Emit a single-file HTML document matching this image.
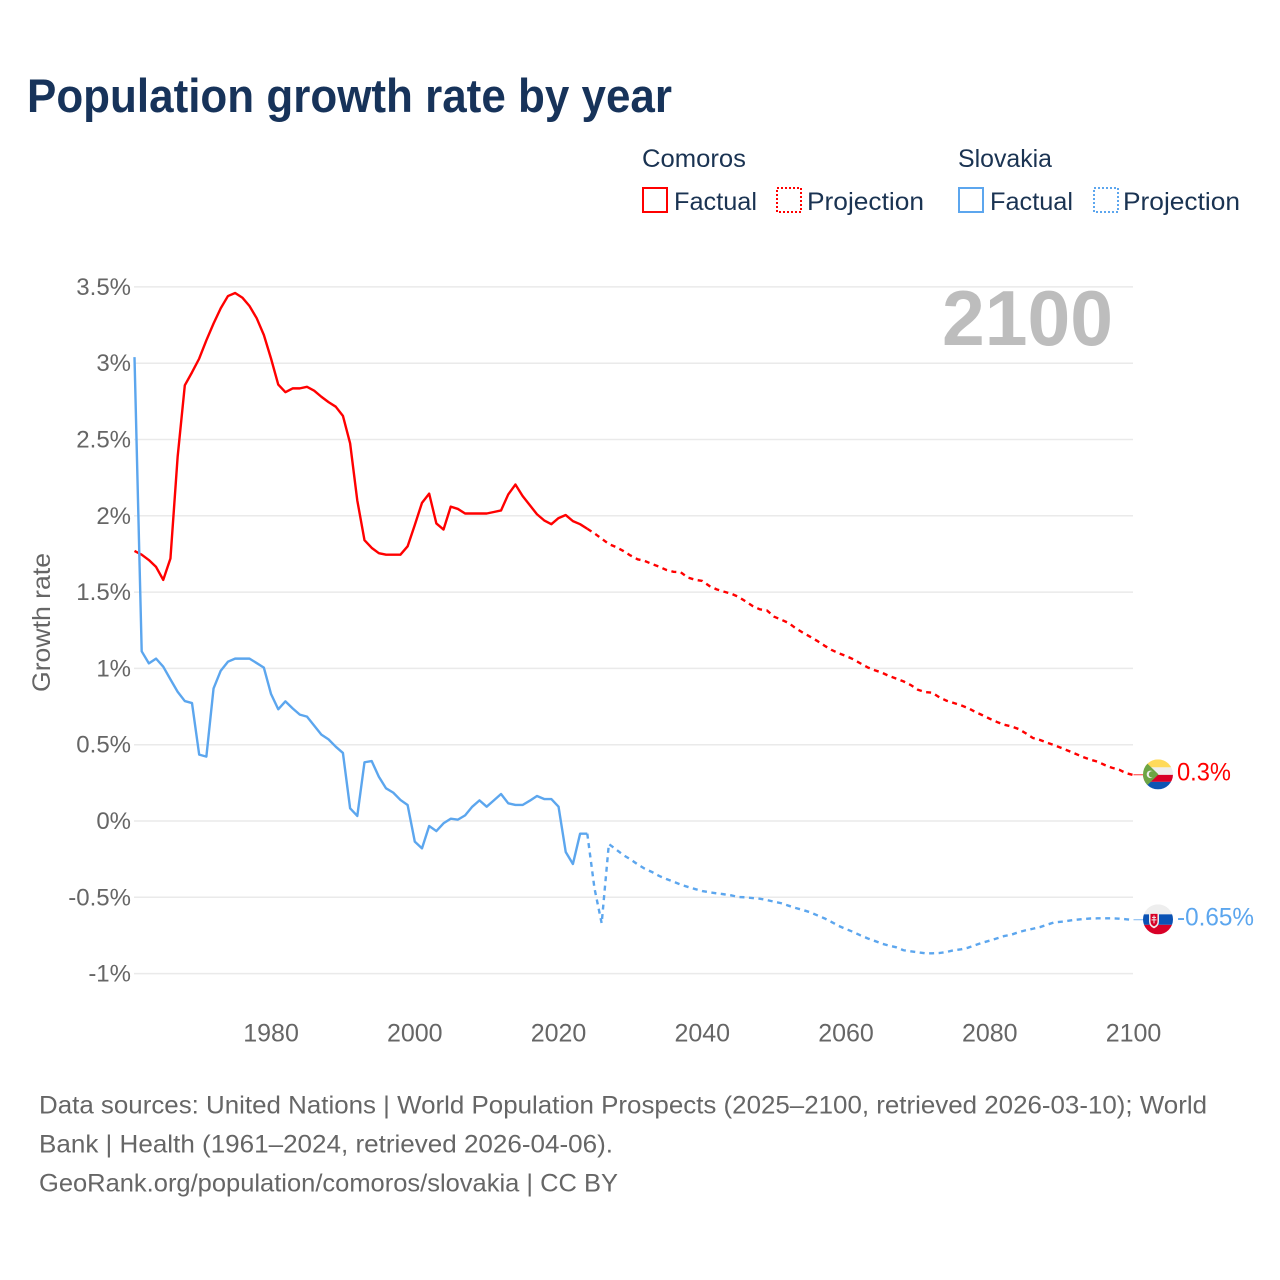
<!DOCTYPE html>
<html lang="en">
<head>
<meta charset="utf-8">
<title>Population growth rate by year</title>
<style>
  html, body { margin: 0; padding: 0; background: #fff; }
  #chart { display: block; width: 1280px; height: 1280px; font-family: "Liberation Sans", sans-serif; }
</style>
</head>
<body>
<svg id="chart" xmlns="http://www.w3.org/2000/svg" width="1280" height="1280" viewBox="0 0 1280 1280">
  <defs>
    <clipPath id="flag-clip-circle"><circle cx="0" cy="0" r="15"></circle></clipPath>
  </defs>
  <rect x="0" y="0" width="1280" height="1280" fill="#ffffff"></rect>

  <text x="27" y="112" font-size="47" font-weight="700" fill="#17335a" textLength="645" lengthAdjust="spacingAndGlyphs">Population growth rate by year</text>

  <g>
    <text x="642" y="167" font-size="25" fill="#1a3352" textLength="104" lengthAdjust="spacingAndGlyphs">Comoros</text>
    <text x="958" y="167" font-size="25" fill="#1a3352" textLength="94" lengthAdjust="spacingAndGlyphs">Slovakia</text>

    <rect x="643" y="188" width="24" height="24" fill="none" stroke="#ff0000" stroke-width="2"></rect>
    <text x="674" y="210" font-size="25" fill="#1a3352" textLength="83" lengthAdjust="spacingAndGlyphs">Factual</text>
    <rect x="777" y="188" width="24" height="24" fill="none" stroke="#ff0000" stroke-width="2" stroke-dasharray="2 2"></rect>
    <text x="807" y="210" font-size="25" fill="#1a3352" textLength="117" lengthAdjust="spacingAndGlyphs">Projection</text>

    <rect x="959" y="188" width="24" height="24" fill="none" stroke="#5ca6ee" stroke-width="2"></rect>
    <text x="990" y="210" font-size="25" fill="#1a3352" textLength="83" lengthAdjust="spacingAndGlyphs">Factual</text>
    <rect x="1094" y="188" width="24" height="24" fill="none" stroke="#5ca6ee" stroke-width="2" stroke-dasharray="2 2"></rect>
    <text x="1123" y="210" font-size="25" fill="#1a3352" textLength="117" lengthAdjust="spacingAndGlyphs">Projection</text>
  </g>

  <g id="grid-layer"></g>
  <g id="y-tick-layer"></g>
  <g id="x-tick-layer"></g>

  <text x="0" y="0" transform="translate(50 692) rotate(-90)" font-size="25" fill="#666666" textLength="139" lengthAdjust="spacingAndGlyphs">Growth rate</text>

  <text x="942" y="345" font-size="78" font-weight="700" fill="#bdbdbd" textLength="171" lengthAdjust="spacingAndGlyphs">2100</text>

  <g id="series-layer"></g>

  <g id="flag-comoros">
    <g clip-path="url(#flag-clip-circle)">
      <rect x="-15" y="-15" width="30" height="8" fill="#ffda5a"></rect>
      <rect x="-15" y="-7" width="30" height="7.500" fill="#eeeeee"></rect>
      <rect x="-15" y="0.500" width="30" height="7" fill="#d80027"></rect>
      <rect x="-15" y="7.500" width="30" height="7.500" fill="#0d55b4"></rect>
      <path d="M-15 -15 L0.500 0 L-15 15 Z" fill="#6da544"></path>
      <circle cx="-7.500" cy="0" r="3.800" fill="#eeeeee"></circle>
      <circle cx="-6" cy="0" r="3.200" fill="#6da544"></circle>
    </g>
  </g>
  <g id="flag-slovakia">
    <g clip-path="url(#flag-clip-circle)">
      <rect x="-15" y="-15" width="30" height="10" fill="#eeeeee"></rect>
      <rect x="-15" y="-5" width="30" height="10.500" fill="#0a52b4"></rect>
      <rect x="-15" y="5.500" width="30" height="9.500" fill="#d80027"></rect>
      <path d="M-9 -7 L1 -7 L1 2 Q1 7 -4 9 Q-9 7 -9 2 Z" fill="#eeeeee"></path>
      <path d="M-7.500 -5.500 L-0.500 -5.500 L-0.500 2 Q-0.500 5.500 -4 7 Q-7.500 5.500 -7.500 2 Z" fill="#d80027"></path>
      <path d="M-4.500 -4 H-3.500 V-2.500 H-2 V-1.500 H-3.500 V0 H-1.500 V1 H-3.500 V4 H-4.500 V1 H-6.500 V0 H-4.500 V-1.500 H-6 V-2.500 H-4.500 Z" fill="#eeeeee"></path>
    </g>
  </g>

  <g font-size="25" fill="#666666">
    <text x="39" y="1113.500" textLength="1168" lengthAdjust="spacingAndGlyphs">Data sources: United Nations | World Population Prospects (2025–2100, retrieved 2026-03-10); World</text>
    <text x="39" y="1152.500" textLength="574" lengthAdjust="spacingAndGlyphs">Bank | Health (1961–2024, retrieved 2026-04-06).</text>
    <text x="39" y="1191.500" textLength="579" lengthAdjust="spacingAndGlyphs">GeoRank.org/population/comoros/slovakia | CC BY</text>
  </g>
</svg>

<script>
// Percent values. Factual series run 1961–2024, projections 2025–2100.
var factualStartYear = 1961;
var projectionStartYear = 2025;
var endYear = 2100;

var comorosFactual = [
  1.77,1.745,1.71,1.665,1.58,1.72,2.385,2.855,2.94,3.03,
  3.15,3.26,3.36,3.44,3.46,3.43,3.375,3.295,3.185,3.03,
  2.86,2.81,2.835,2.835,2.845,2.82,2.78,2.745,2.715,2.655,
  2.475,2.10,1.84,1.79,1.755,1.745,1.745,1.745,1.80,1.94,
  2.085,2.145,1.95,1.91,2.06,2.045,2.015,2.015,2.015,2.015,
  2.025,2.035,2.14,2.205,2.13,2.07,2.01,1.97,1.945,1.985,
  2.005,1.965,1.945,1.915
];
var comorosProjection = [
  1.885,1.85,1.815,1.795,1.77,1.74,1.715,1.704,1.684,1.667,
  1.645,1.633,1.63,1.595,1.581,1.573,1.54,1.518,1.503,1.49,
  1.47,1.44,1.409,1.387,1.38,1.339,1.319,1.298,1.263,1.234,
  1.208,1.18,1.149,1.121,1.099,1.081,1.06,1.033,1.007,0.988,
  0.972,0.95,0.933,0.915,0.891,0.86,0.845,0.841,0.81,0.788,
  0.773,0.758,0.74,0.714,0.693,0.67,0.649,0.631,0.62,0.603,
  0.575,0.544,0.531,0.513,0.496,0.478,0.459,0.439,0.419,0.402,
  0.389,0.367,0.349,0.336,0.313,0.301
];
var slovakiaFactual = [
  3.04,1.112,1.033,1.064,1.011,0.928,0.847,0.786,0.773,0.435,
  0.422,0.869,0.985,1.044,1.064,1.064,1.064,1.035,1.005,0.832,
  0.732,0.784,0.738,0.697,0.684,0.625,0.566,0.535,0.487,0.446,
  0.083,0.033,0.385,0.393,0.29,0.214,0.186,0.138,0.105,-0.135,
  -0.179,-0.033,-0.066,-0.015,0.015,0.009,0.037,0.094,0.135,0.094,
  0.135,0.177,0.116,0.105,0.105,0.133,0.164,0.144,0.144,0.094,
  -0.203,-0.282,-0.083,-0.083
];
var slovakiaProjection = [
  -0.441,-0.67,-0.151,-0.186,-0.223,-0.251,-0.284,-0.313,-0.334,-0.36,
  -0.38,-0.398,-0.417,-0.432,-0.446,-0.459,-0.467,-0.474,-0.48,-0.487,
  -0.498,-0.5,-0.505,-0.509,-0.518,-0.529,-0.539,-0.555,-0.57,-0.583,
  -0.598,-0.618,-0.638,-0.662,-0.688,-0.708,-0.727,-0.749,-0.769,-0.786,
  -0.804,-0.817,-0.828,-0.847,-0.854,-0.86,-0.867,-0.867,-0.865,-0.858,
  -0.847,-0.841,-0.83,-0.813,-0.797,-0.784,-0.769,-0.754,-0.745,-0.729,
  -0.716,-0.706,-0.695,-0.679,-0.664,-0.66,-0.653,-0.647,-0.642,-0.639,
  -0.638,-0.638,-0.638,-0.64,-0.644,-0.649
];
var yTickValues = [3.5, 3, 2.5, 2, 1.5, 1, 0.5, 0, -0.5, -1];
var yTickLabels = ["3.5%", "3%", "2.5%", "2%", "1.5%", "1%", "0.5%", "0%", "-0.5%", "-1%"];
var xTickValues = [1980, 2000, 2020, 2040, 2060, 2080, 2100];
var xTickLabels = ["1980", "2000", "2020", "2040", "2060", "2080", "2100"];
var comorosEndLabel = "0.3%";
var slovakiaEndLabel = "-0.65%";

var SVG_NS = "http://www.w3.org/2000/svg";
var COMOROS_COLOR = "#ff0000";
var SLOVAKIA_COLOR = "#5ca6ee";

function xScale(year) {
  return 134.5 + (year - 1961) * (1133.5 - 134.5) / (2100 - 1961);
}
function yScale(value) {
  return 821 - value * 152.6;
}
function make(tag, attrs, parent) {
  var el = document.createElementNS(SVG_NS, tag);
  Object.keys(attrs).forEach(function (k) { el.setAttribute(k, attrs[k]); });
  parent.appendChild(el);
  return el;
}
function factualPoints(values) {
  return values.map(function (v, i) {
    return xScale(factualStartYear + i).toFixed(2) + "," + yScale(v).toFixed(2);
  });
}
function projectionPoints(factual, values) {
  var lastYear = factualStartYear + factual.length - 1;
  var pts = [xScale(lastYear).toFixed(2) + "," + yScale(factual[factual.length - 1]).toFixed(2)];
  values.forEach(function (v, i) {
    pts.push(xScale(projectionStartYear + i).toFixed(2) + "," + yScale(v).toFixed(2));
  });
  return pts;
}

var gridLayer = document.getElementById("grid-layer");
var yTickLayer = document.getElementById("y-tick-layer");
var xTickLayer = document.getElementById("x-tick-layer");
var seriesLayer = document.getElementById("series-layer");

yTickValues.forEach(function (v, i) {
  var line = make("line", { x1: 134, x2: 1133, y1: yScale(v), y2: yScale(v), stroke: "#eaeaea", "stroke-width": 1.5 }, gridLayer);
  
  
  var label = make("text", { x: 131, y: yScale(v) + 8, "text-anchor": "end", "font-size": 24, fill: "#666666" }, yTickLayer);
  
  
  label.textContent = yTickLabels[i];
});

xTickValues.forEach(function (year, i) {
  var label = make("text", { x: xScale(year), y: 1041.5, "text-anchor": "middle", "font-size": 25, fill: "#666666" }, xTickLayer);
  
  
  label.textContent = xTickLabels[i];
});

function drawSeries(factual, projection, color, flagId, endLabel, seriesKey, labelWidth) {
  var solid = make("polyline", { points: factualPoints(factual).join(" "), fill: "none", stroke: color, "stroke-width": 2.4, "stroke-linejoin": "round" }, seriesLayer);
  
  

  var dashed = make("polyline", { points: projectionPoints(factual, projection).join(" "), fill: "none", stroke: color, "stroke-width": 2.4, "stroke-dasharray": "5 4.5", "stroke-linejoin": "round" }, seriesLayer);
  
  

  var lastValue = projection[projection.length - 1];
  var endY = yScale(lastValue);
  var connector = make("line", { x1: xScale(endYear), x2: 1143, y1: endY - 0.3, y2: endY - 0.3, stroke: color, "stroke-width": 1, opacity: 0.8 }, seriesLayer);
  
  

  document.getElementById(flagId).setAttribute("transform", "translate(1158 " + (endY - 0.7).toFixed(2) + ")");

  var label = make("text", { x: 1177, y: endY + 5.5, "font-size": 25, fill: color, textLength: labelWidth, lengthAdjust: "spacingAndGlyphs" }, seriesLayer);
  
  
  label.textContent = endLabel;
}

drawSeries(comorosFactual, comorosProjection, COMOROS_COLOR, "flag-comoros", comorosEndLabel, "comoros", 54);
drawSeries(slovakiaFactual, slovakiaProjection, SLOVAKIA_COLOR, "flag-slovakia", slovakiaEndLabel, "slovakia", 77);
</script>
</body>
</html>
